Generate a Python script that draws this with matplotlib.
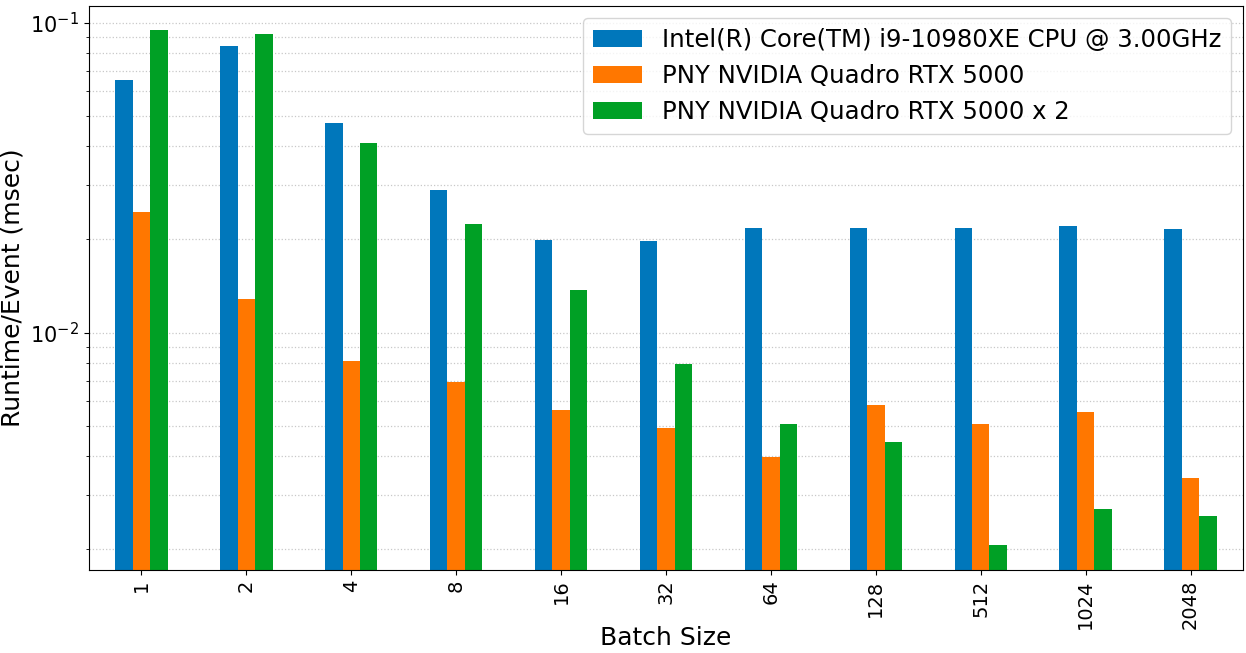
import matplotlib
matplotlib.use('Agg')
import matplotlib.pyplot as plt
import numpy as np

batch_sizes = ['1', '2', '4', '8', '16', '32', '64', '128', '512', '1024', '2048']
cpu = [0.0653, 0.0843, 0.0475, 0.0288, 0.0199, 0.0198, 0.0218, 0.0218, 0.0218, 0.0221, 0.0216]
gpu1 = [0.0245, 0.0128, 0.0081, 0.00693, 0.00562, 0.00493, 0.00398, 0.00585, 0.00508, 0.00554, 0.0034]
gpu2 = [0.0945, 0.0916, 0.0409, 0.0224, 0.0137, 0.00793, 0.00508, 0.00444, 0.00207, 0.0027, 0.00256]
labels = ['Intel(R) Core(TM) i9-10980XE CPU @ 3.00GHz',
          'PNY NVIDIA Quadro RTX 5000',
          'PNY NVIDIA Quadro RTX 5000 x 2']
colors = ['#0077bb', '#ff7700', '#00a025']

fig = plt.figure(figsize=(12.46, 6.53), dpi=100)
ax = fig.add_axes([89 / 1246, 1 - 570 / 653, (1243 - 89) / 1246, (570 - 5.7) / 653])

x = np.arange(len(batch_sizes))
w = 0.5 / 3
for i, (vals, lab, c) in enumerate(zip([cpu, gpu1, gpu2], labels, colors)):
    ax.bar(x + (i - 1) * w, vals, width=w, color=c, label=lab)

ax.set_yscale('log')
ax.set_ylim(0.001715, 0.1134)
ax.set_xlim(-0.5, len(batch_sizes) - 0.5)
ax.set_xticks(x)
ax.set_xticklabels(batch_sizes, rotation=90, fontsize=14)
ax.tick_params(axis='y', labelsize=15)
ax.yaxis.grid(True, which='both', linestyle=':', color='#c8c8c8', lw=0.9)
ax.set_axisbelow(True)
ax.set_xlabel('Batch Size', fontsize=18)
ax.xaxis.set_label_coords(0.5, -0.1)
ax.set_ylabel('Runtime/Event (msec)', fontsize=18)
ax.legend(loc='upper right', fontsize=17.6)

fig.savefig('out.png', dpi=100)
